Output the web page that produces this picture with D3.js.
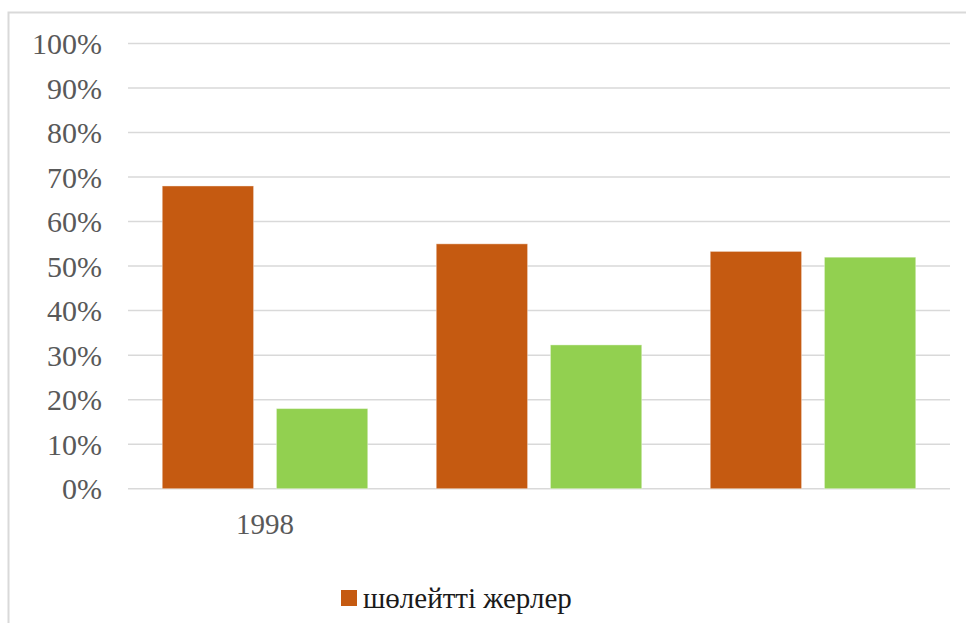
<!DOCTYPE html>
<html>
<head>
<meta charset="utf-8">
<script src="https://cdn.jsdelivr.net/npm/d3@7"></script>
<style>
  body { margin: 0; background: #fff; }
  svg { display: block; }
  svg text { font-family: "Liberation Serif", "Times New Roman", "Nimbus Roman", "FreeSerif", "Noto Serif", "Noto Serif CJK SC", "DejaVu Serif", serif; }
</style>
</head>
<body>
<svg id="chart"></svg>
<script>
// chart data
const groups = ["1998", "", " "];
const series = ["шөлейтті жерлер", "other"];
const orangeValues = [0.68, 0.55, 0.533];
const greenValues = [0.18, 0.323, 0.52];
const yTicks = [0, 0.1, 0.2, 0.3, 0.4, 0.5, 0.6, 0.7, 0.8, 0.9, 1.0];
const legendItems = ["шөлейтті жерлер"];

const width = 966, height = 623;
const colors = { "шөлейтті жерлер": "#C55A11", "other": "#92D050" };

const svg = d3.select("#chart")
  .attr("width", width)
  .attr("height", height);

// outer chart border (cropped at right/bottom)
svg.append("rect")
  .attr("x", 8.5).attr("y", 12.5)
  .attr("width", 1000).attr("height", 700)
  .attr("fill", "none")
  .attr("stroke", "#D9D9D9")
  .attr("stroke-width", 2);

const plot = { left: 128, right: 950, top: 43.5, bottom: 488.7 };

const y = d3.scaleLinear().domain([0, 1]).range([plot.bottom, plot.top]);
const x0 = d3.scaleBand().domain(groups).range([plot.left, plot.right]).padding(0);
const x1 = d3.scaleBand().domain(series).range([0, x0.bandwidth()])
  .paddingInner(0.2).paddingOuter(0.3);

// gridlines
svg.append("g")
  .selectAll("line")
  .data(yTicks)
  .join("line")
  .attr("x1", plot.left).attr("x2", plot.right)
  .attr("y1", d => y(d)).attr("y2", d => y(d))
  .attr("stroke", "#D9D9D9")
  .attr("stroke-width", 1.5);

// y axis labels
const yAxis = d3.axisLeft(y)
  .tickValues(yTicks)
  .tickFormat(d3.format(".0%"))
  .tickSize(0)
  .tickPadding(0);

svg.append("g")
  .attr("transform", `translate(${plot.left - 26},0)`)
  .call(yAxis)
  .attr("font-family", null)
  .call(g => g.select(".domain").remove())
  .selectAll("text")
  .attr("font-size", 30)
  .attr("fill", "#595959")
  .attr("dy", "0.34em");

// x axis labels
const xAxis = d3.axisBottom(x0).tickSize(0).tickPadding(0);
svg.append("g")
  .attr("transform", `translate(0,${plot.bottom + 24})`)
  .call(xAxis)
  .attr("font-family", null)
  .call(g => g.select(".domain").remove())
  .selectAll("text")
  .attr("font-size", 29)
  .attr("fill", "#595959")
  .attr("dy", "0.72em");

// bars
const rows = groups.map((g, i) => ({ group: g, values: [
  { key: series[0], value: orangeValues[i] },
  { key: series[1], value: greenValues[i] }
]}));

svg.append("g")
  .selectAll("g")
  .data(rows)
  .join("g")
  .attr("transform", d => `translate(${x0(d.group)},0)`)
  .selectAll("rect")
  .data(d => d.values)
  .join("rect")
  .attr("x", d => x1(d.key))
  .attr("width", x1.bandwidth())
  .attr("y", d => y(d.value))
  .attr("height", d => y(0) - y(d.value))
  .attr("fill", d => colors[d.key])
  .attr("stroke", "#fff")
  .attr("stroke-opacity", 0.4)
  .attr("stroke-width", 1);

// legend
const legend = svg.append("g").attr("transform", "translate(341,590)");
legend.selectAll("rect")
  .data(legendItems)
  .join("rect")
  .attr("x", 0).attr("y", 0)
  .attr("width", 16).attr("height", 16)
  .attr("fill", d => colors[d]);
legend.selectAll("text")
  .data(legendItems)
  .join("text")
  .attr("x", 22).attr("y", 8)
  .attr("dy", "0.35em")
  .attr("font-size", 29)
  .attr("fill", "#1a1a1a")
  .text(d => d);
</script>
</body>
</html>
